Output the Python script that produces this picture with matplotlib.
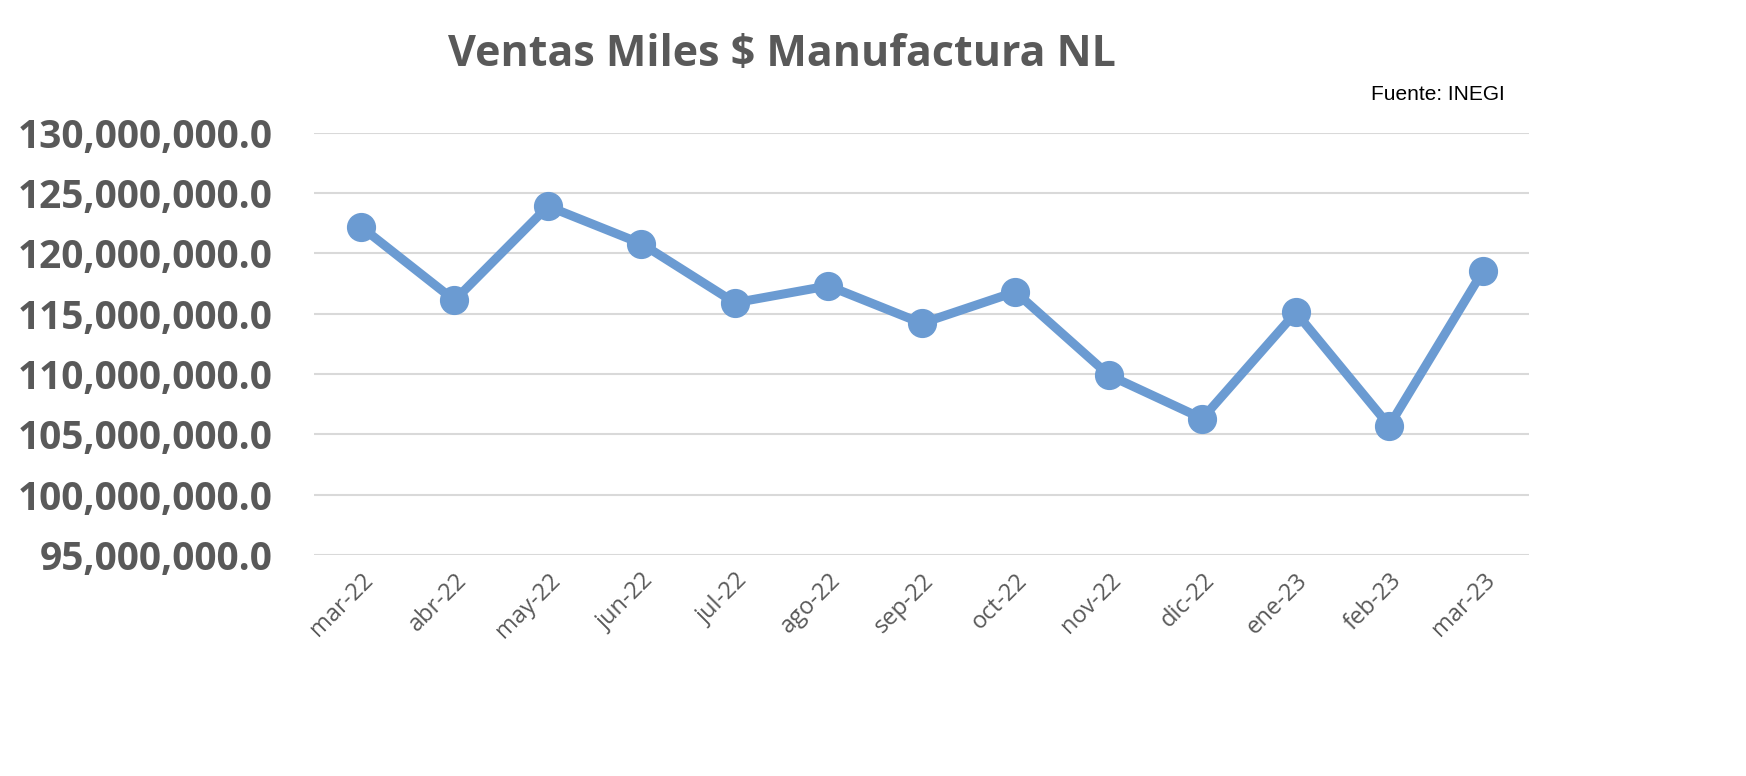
import matplotlib.pyplot as plt
from matplotlib.ticker import FuncFormatter

months = ["mar-22", "abr-22", "may-22", "jun-22", "jul-22", "ago-22", "sep-22",
          "oct-22", "nov-22", "dic-22", "ene-23", "feb-23", "mar-23"]
ventas = [122.2e6, 116.1e6, 123.9e6, 120.8e6, 115.9e6, 117.3e6, 114.2e6,
          116.8e6, 109.9e6, 106.3e6, 115.1e6, 105.7e6, 118.5e6]
y_ticks = [95e6, 100e6, 105e6, 110e6, 115e6, 120e6, 125e6, 130e6]

plt.rcParams["font.family"] = ["Open Sans", "DejaVu Sans"]

fig = plt.figure(figsize=(17.46, 7.76), dpi=100)
ax = fig.add_axes([0.18, 0.285, 0.696, 0.544])

x = range(len(months))
ax.plot(x, ventas, color="#6b9bd2", linewidth=6.5, marker="o", markersize=20, zorder=3)

ax.set_xlim(-0.5, len(months) - 0.5)
ax.set_ylim(y_ticks[0], y_ticks[-1])
ax.set_yticks(y_ticks)
ax.yaxis.set_major_formatter(FuncFormatter(lambda v, _: f"{v:,.1f}"))
ax.set_xticks(list(x))
ax.set_xticklabels(months, rotation=45, ha="right", rotation_mode="anchor")

ax.grid(axis="y", color="#d9d9d9", linewidth=1.5)
ax.set_axisbelow(True)
for s in ax.spines.values():
    s.set_visible(False)
ax.tick_params(length=0)
ax.tick_params(axis="y", labelsize=28, labelcolor="#595959", pad=30)
for lbl in ax.get_yticklabels():
    lbl.set_fontweight("bold")
ax.tick_params(axis="x", labelsize=17, labelcolor="#595959", pad=10)

fig.text(0.448, 0.93, "Ventas Miles $ Manufactura NL", ha="center", va="center",
         fontsize=31, fontweight="bold", color="#595959")
fig.text(0.862, 0.878, "Fuente: INEGI", ha="right", va="center", fontsize=15, color="black",
         family=["Liberation Sans", "DejaVu Sans"])

fig.savefig("out.png", dpi=100)
